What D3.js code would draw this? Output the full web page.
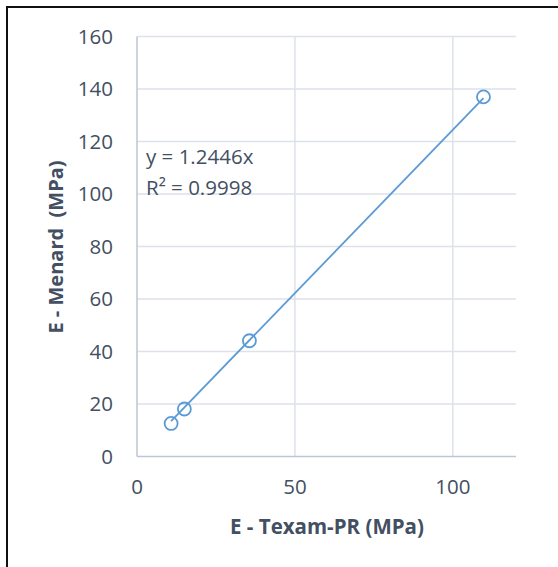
<!DOCTYPE html>
<html>
<head>
<meta charset="utf-8">
<script src="https://cdn.jsdelivr.net/npm/d3@7"></script>
<style>
  body { margin: 0; background: #fff; }
  svg { display: block; font-family: "Open Sans", Lato, sans-serif; }
</style>
</head>
<body>
<svg id="chart" width="558" height="567"></svg>
<script>
// E - Texam-PR (MPa) vs E - Menard (MPa)
var texam = [10.8, 15, 35.6, 109.7];
var menard = [12.6, 18.1, 44.1, 137];
var slope = 1.2446;
var xTicks = [0, 50, 100];
var yTicks = [0, 20, 40, 60, 80, 100, 120, 140, 160];
var eqLines = ["y = 1.2446x", "R\u00b2 = 0.9998"];

var svg = d3.select("#chart");
var blue = "#5b9bd5", textCol = "#434f62", gridCol = "#dde2ea", axisCol = "#bcc6d6";
var fs = 20.5;

// outer frame (only top and left are inside the picture)
svg.append("rect")
    .attr("x", 7).attr("y", 7).attr("width", 700).attr("height", 700)
    .attr("fill", "none").attr("stroke", "#111").attr("stroke-width", 2);

var x = d3.scaleLinear().domain([0, 120]).range([137, 516]);
var y = d3.scaleLinear().domain([0, 160]).range([456.5, 36.5]);

// gridlines
svg.append("g").selectAll("line.h")
    .data(yTicks.slice(1))
    .enter().append("line")
    .attr("x1", x(0)).attr("x2", x(120))
    .attr("y1", function(d) { return y(d); }).attr("y2", function(d) { return y(d); })
    .attr("stroke", gridCol).attr("stroke-width", 1.5);

svg.append("g").selectAll("line.v")
    .data(xTicks.slice(1))
    .enter().append("line")
    .attr("y1", y(0)).attr("y2", y(160))
    .attr("x1", function(d) { return x(d); }).attr("x2", function(d) { return x(d); })
    .attr("stroke", gridCol).attr("stroke-width", 1.5);

// axis lines
svg.append("line").attr("x1", x(0)).attr("x2", x(0)).attr("y1", y(0)).attr("y2", y(160))
    .attr("stroke", axisCol).attr("stroke-width", 1.5);
svg.append("line").attr("x1", x(0)).attr("x2", x(120)).attr("y1", y(0)).attr("y2", y(0))
    .attr("stroke", axisCol).attr("stroke-width", 1.5);

// tick labels
svg.append("g").selectAll("text")
    .data(yTicks)
    .enter().append("text")
    .attr("x", 113).attr("y", function(d) { return y(d); })
    .attr("dy", "0.36em")
    .attr("text-anchor", "end")
    .attr("font-size", fs).attr("fill", textCol)
    .text(function(d) { return d; });

svg.append("g").selectAll("text")
    .data(xTicks)
    .enter().append("text")
    .attr("x", function(d) { return x(d); }).attr("y", 487)
    .attr("dy", "0.36em")
    .attr("text-anchor", "middle")
    .attr("font-size", fs).attr("fill", textCol)
    .text(function(d) { return d; });

// axis titles
svg.append("text")
    .attr("x", 327).attr("y", 527).attr("dy", "0.36em")
    .attr("text-anchor", "middle")
    .attr("font-size", fs).attr("font-weight", "bold").attr("fill", textCol)
    .text("E - Texam-PR (MPa)");

svg.append("text")
    .attr("transform", "translate(56,247) rotate(-90)")
    .attr("dy", "0.36em")
    .attr("text-anchor", "middle")
    .attr("font-size", 20).attr("font-weight", "bold").attr("fill", textCol)
    .attr("xml:space", "preserve")
    .style("white-space", "pre")
    .text("E - Menard  (MPa)");

// trendline
var xr = d3.extent(texam);
svg.append("line")
    .attr("x1", x(xr[0])).attr("y1", y(slope * xr[0]))
    .attr("x2", x(xr[1])).attr("y2", y(slope * xr[1]))
    .attr("stroke", blue).attr("stroke-width", 1.8);

// markers
svg.append("g").selectAll("circle")
    .data(texam)
    .enter().append("circle")
    .attr("cx", function(d) { return x(d); })
    .attr("cy", function(d, i) { return y(menard[i]); })
    .attr("r", 6.5)
    .attr("fill", "none").attr("stroke", blue).attr("stroke-width", 1.8);

// equation label
svg.append("g").selectAll("text")
    .data(eqLines)
    .enter().append("text")
    .attr("x", 146).attr("y", function(d, i) { return 157 + i * 31; })
    .attr("dy", "0.36em")
    .attr("font-size", fs).attr("fill", textCol)
    .text(function(d) { return d; });
</script>
</body>
</html>
